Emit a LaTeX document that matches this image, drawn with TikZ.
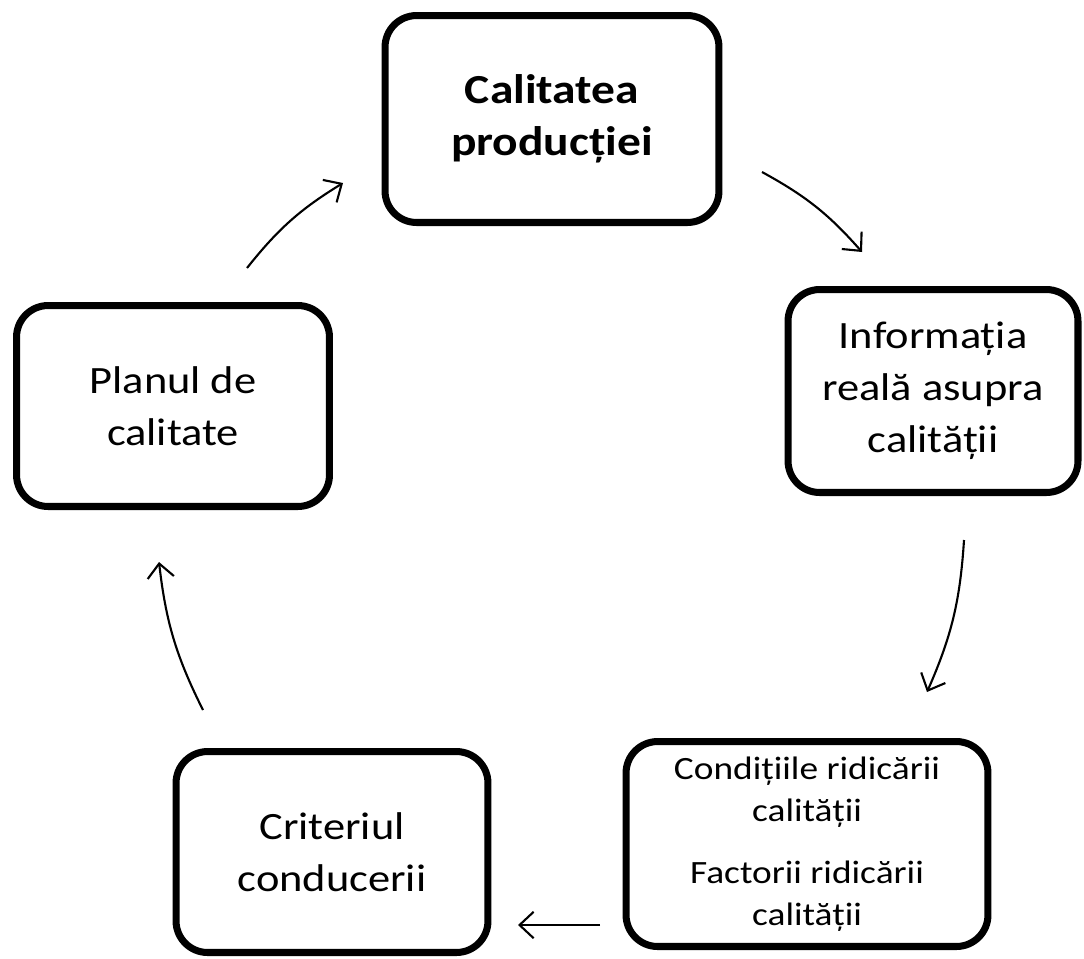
\documentclass[tikz,border=0pt]{standalone}
\usepackage{fontspec}
\setmainfont{Carlito}[FakeStretch=1.15]
\usetikzlibrary{arrows.meta}
\tikzset{
  stage/.style={draw, line width=4pt, rounded corners=18pt, align=center,
    font=\fontsize{22}{29.5}\selectfont},
  flow/.style={-{Straight Barb[length=8pt,width=15pt]}, line width=1.2pt},
}
\begin{document}
\begin{tikzpicture}[x=0.02cm, y=-0.02cm]
\useasboundingbox (0,0) rectangle (1084,958);
% the five stages
\node[stage, minimum width=6.68cm, minimum height=4.14cm,
  font=\fontsize{23.5}{29.5}\selectfont\bfseries] (calit) at (552,119) {Calitatea\\producției};
\node[stage, minimum width=5.8cm, minimum height=4.06cm] (info) at (933,391)
  {Informația\\reală asupra\\calității};
\node[stage, minimum width=7.24cm, minimum height=4.1cm,
  font=\fontsize{18.5}{24}\selectfont] (cond) at (807,844)
  {\rule{0pt}{10pt}Condițiile ridicării\\calității\\[11pt]Factorii ridicării\\calității};
\node[stage, minimum width=6.24cm, minimum height=4.02cm] (crit) at (332,852)
  {Criteriul\\conducerii};
\node[stage, minimum width=6.26cm, minimum height=4.02cm] (plan) at (173,406)
  {Planul de\\calitate};
% arrow ends
\coordinate (p1) at (247,268); \coordinate (c1) at (343,183);
\coordinate (c2) at (762,172); \coordinate (i1) at (862,252);
\coordinate (i2) at (964,540); \coordinate (k1) at (927,692);
\coordinate (k2) at (600,925); \coordinate (r1) at (518,925);
\coordinate (r2) at (203,710); \coordinate (p2) at (159,562);
\draw[flow] (p1) to[bend left=10] (c1);
\draw[flow] (c2) to[bend left=10] (i1);
\draw[flow] (i2) to[bend left=10] (k1);
\draw[flow] (k2) -- (r1);
\draw[flow] (r2) to[bend left=10] (p2);
\end{tikzpicture}
\end{document}
